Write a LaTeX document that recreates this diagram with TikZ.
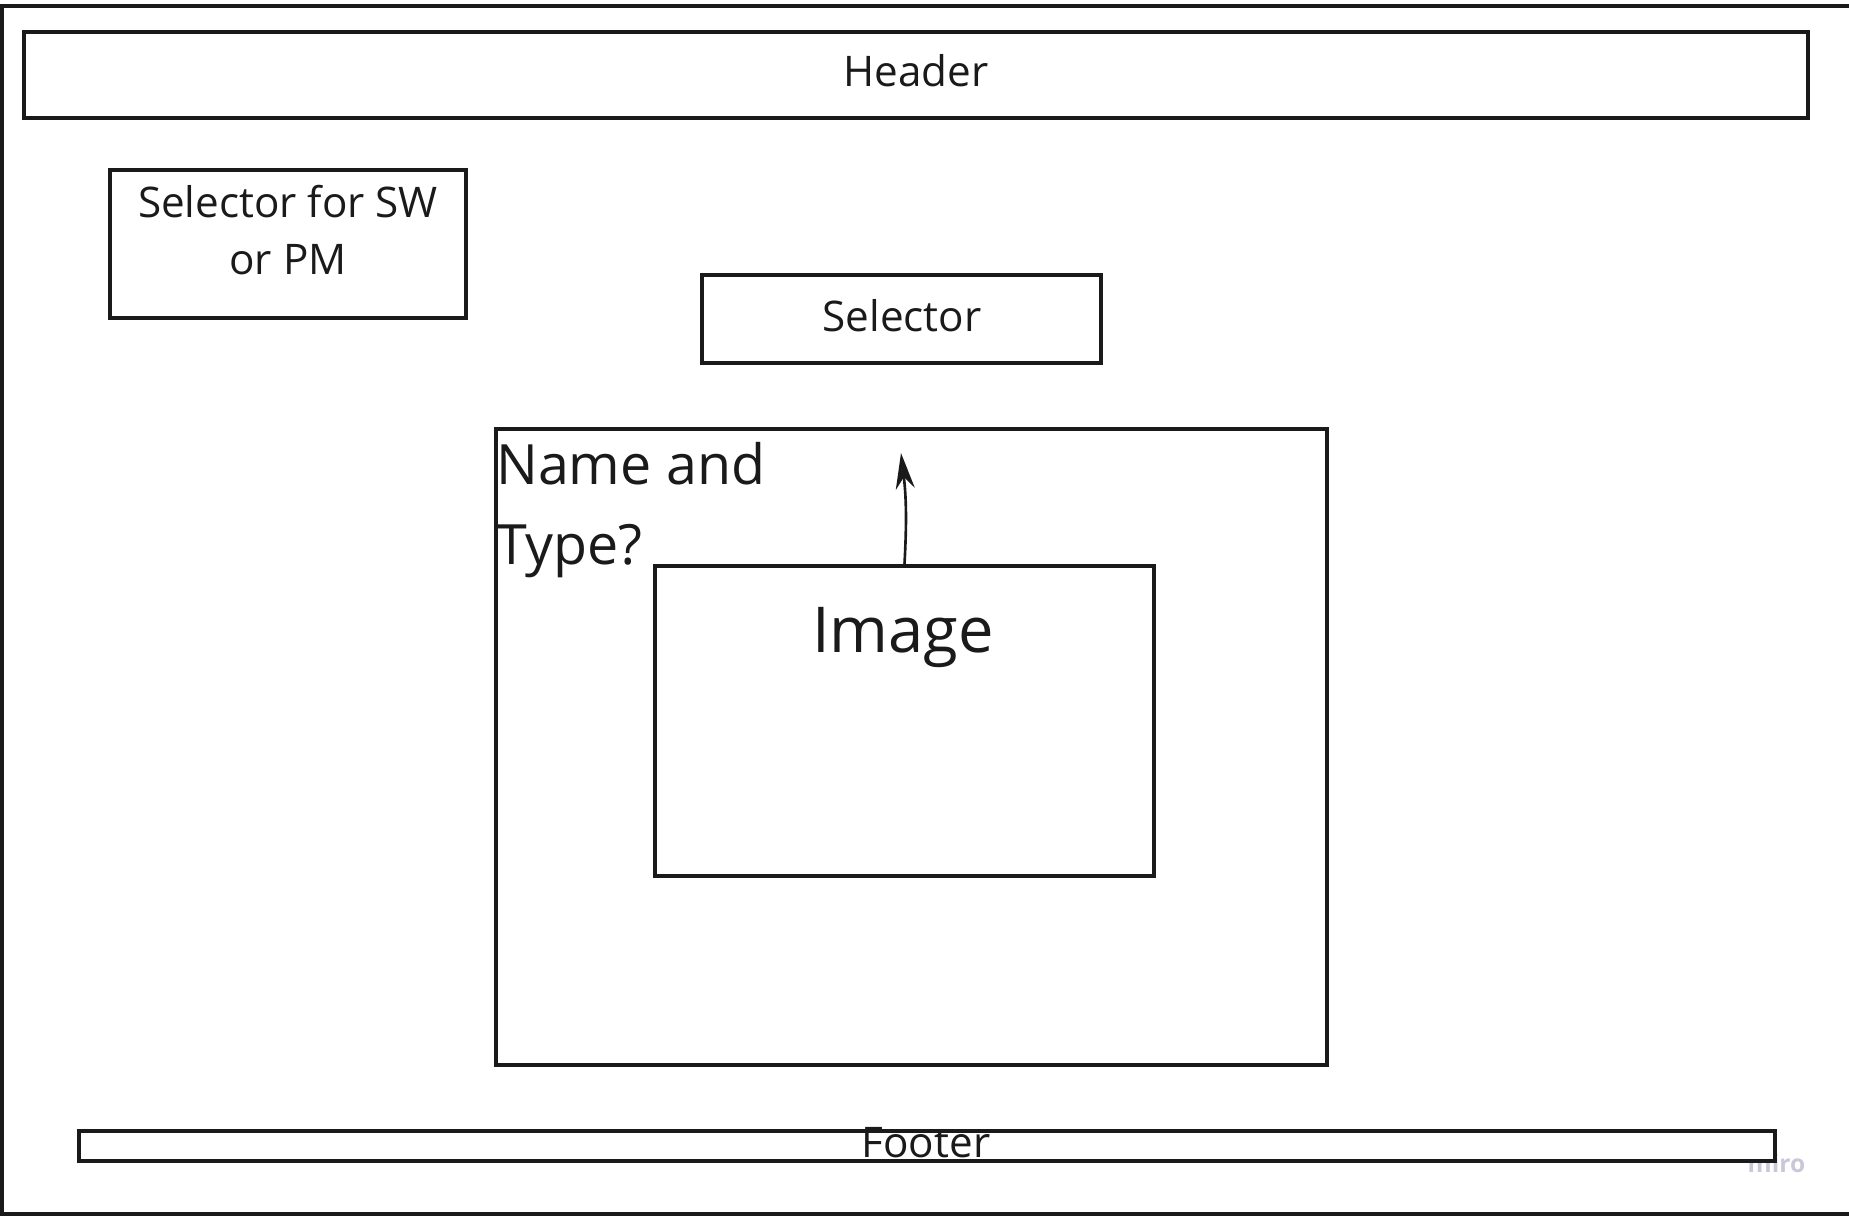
\documentclass[tikz,border=0pt]{standalone}
\usepackage{fontspec}
\setmainfont{Open Sans}
\usetikzlibrary{arrows.meta}
\definecolor{ink}{HTML}{1A1A1A}
\definecolor{mirogray}{HTML}{C8C8D8}
\begin{document}
\begin{tikzpicture}[
  box/.style={draw=ink, line width=1.25pt, inner sep=0pt, text=ink, font=\fontsize{12}{16}\selectfont},
  txt/.style={inner sep=0pt, text=ink}]
\useasboundingbox (0,0) rectangle (18.49,-12.16);
\draw[ink, line width=1.2pt] (0.02,-0.06) rectangle (18.9,-12.145);
\node[box, minimum width=17.84cm, minimum height=0.86cm] (header) at (9.16,-0.75) {};
\node[txt, anchor=base, font=\fontsize{12}{16}\selectfont] (headertext) at (9.16,-0.87) {Header};
\node[box, minimum width=3.56cm, minimum height=1.48cm] (swsel) at (2.88,-2.44) {};
\node[txt, align=center, anchor=base, font=\fontsize{12}{16.5}\selectfont] (swtext) at (2.88,-2.75) {Selector for SW\\or PM};
\node[box, minimum width=3.99cm, minimum height=0.88cm] (selector) at (9.015,-3.19) {};
\node[txt, anchor=base, font=\fontsize{12}{16}\selectfont] (selectortext) at (9.02,-3.32) {Selector};
\node[box, minimum width=8.31cm, minimum height=6.36cm] (namebox) at (9.115,-7.47) {};
\node[txt, align=left, anchor=base west, font=\fontsize{15.8}{22.8}\selectfont] (nametext) at (4.955,-5.65) {Name and\\Type?};
\node[box, minimum width=4.99cm, minimum height=3.10cm] (image) at (9.045,-7.21) {};
\node[txt, anchor=base, font=\fontsize{18}{22}\selectfont] (imagetext) at (9.03,-6.53) {Image};
\coordinate (tip) at (9.01,-4.53);
\draw[ink, line width=0.75pt, -{Stealth[length=0.36cm, width=0.19cm]}] (image.north) to[bend right=5] (tip);
\node[inner sep=0pt, anchor=base west, text=mirogray, font=\fontsize{7}{8}\bfseries] (miro) at (17.47,-11.73) {miro};
\node[box, fill=white, minimum width=16.96cm, minimum height=0.30cm] (footer) at (9.27,-11.46) {};
\node[txt, anchor=base, font=\fontsize{12}{16}\selectfont] (footertext) at (9.26,-11.58) {Footer};
\end{tikzpicture}
\end{document}
